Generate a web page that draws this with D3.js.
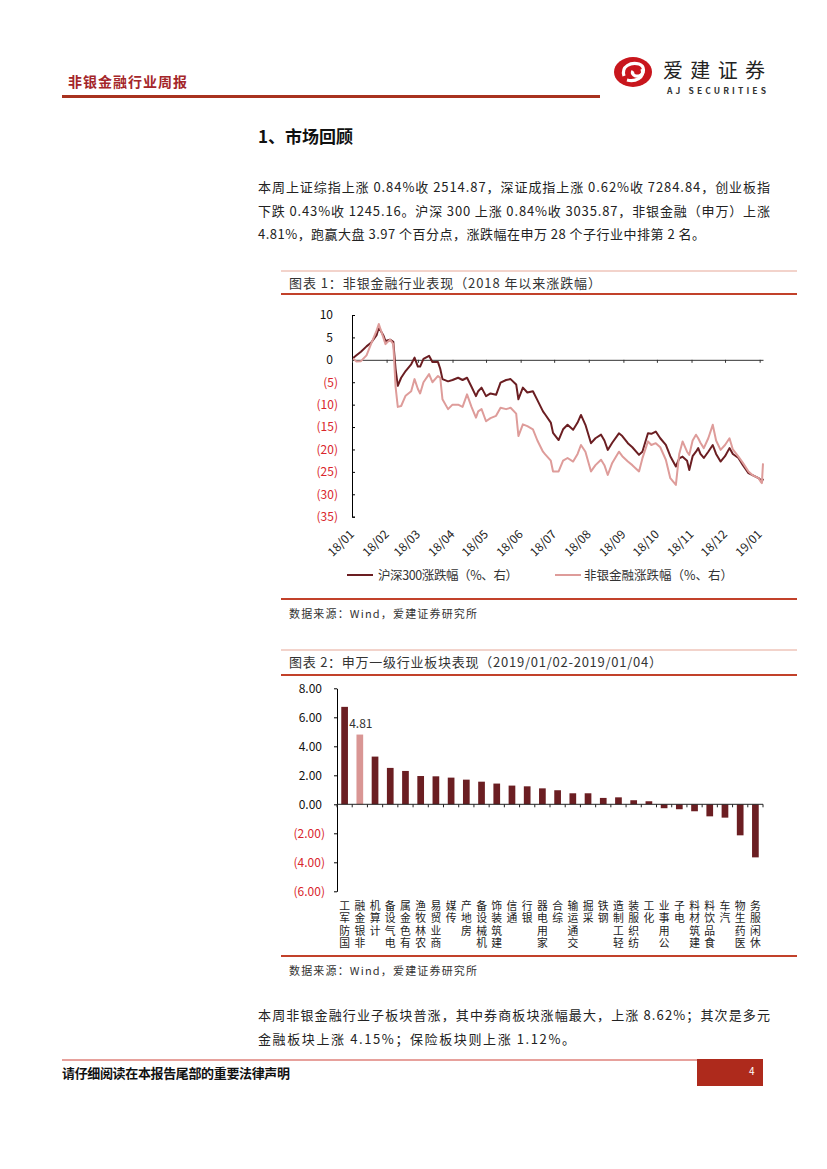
<!DOCTYPE html>
<html><head><meta charset="utf-8">
<script src="https://cdn.jsdelivr.net/npm/d3@7/dist/d3.min.js"></script>
<style>
html,body{margin:0;padding:0;background:#fff;}
svg{display:block;}
text{font-family:"Noto Sans CJK SC","Noto Sans",sans-serif;}
</style></head>
<body>
<svg id="page" width="827" height="1169"></svg>
<script>
// ---------- DATA ----------
const lineDates = ["2018-01-02","2018-01-05","2018-01-09","2018-01-14","2018-01-18","2018-01-23","2018-01-25","2018-01-29","2018-01-31","2018-02-04","2018-02-07","2018-02-09","2018-02-11","2018-02-14","2018-02-18","2018-02-23","2018-02-26","2018-03-01","2018-03-03","2018-03-06","2018-03-11","2018-03-14","2018-03-19","2018-03-21","2018-03-23","2018-03-28","2018-04-01","2018-04-06","2018-04-10","2018-04-14","2018-04-18","2018-04-22","2018-04-24","2018-04-27","2018-05-01","2018-05-05","2018-05-10","2018-05-14","2018-05-19","2018-05-23","2018-05-28","2018-05-30","2018-06-03","2018-06-07","2018-06-12","2018-06-16","2018-06-21","2018-06-23","2018-06-28","2018-06-30","2018-07-05","2018-07-09","2018-07-13","2018-07-18","2018-07-22","2018-07-25","2018-07-29","2018-08-03","2018-08-07","2018-08-12","2018-08-15","2018-08-18","2018-08-22","2018-08-28","2018-08-31","2018-09-05","2018-09-09","2018-09-15","2018-09-18","2018-09-23","2018-09-26","2018-09-30","2018-10-04","2018-10-09","2018-10-13","2018-10-18","2018-10-21","2018-10-24","2018-10-28","2018-10-30","2018-11-02","2018-11-05","2018-11-07","2018-11-09","2018-11-12","2018-11-16","2018-11-20","2018-11-23","2018-11-27","2018-12-01","2018-12-05","2018-12-08","2018-12-13","2018-12-17","2018-12-22","2018-12-26","2018-12-31","2019-01-02","2019-01-03","2019-01-04"];
const hs300 = [0.4,1.0,1.8,3.0,3.8,5.5,7.2,5.5,4.2,4.5,4.0,-2.0,-5.8,-4.0,-2.5,-1.0,0.5,-1.5,-1.5,0.2,0.9,-0.5,-0.5,-2.0,-4.3,-4.8,-4.5,-4.0,-4.5,-4.0,-6.0,-8.1,-7.0,-6.2,-8.1,-7.5,-7.8,-5.1,-4.5,-4.3,-5.5,-8.8,-6.2,-7.3,-7.0,-9.0,-11.5,-12.2,-14.0,-16.3,-17.9,-15.5,-14.5,-15.6,-14.0,-12.3,-14.5,-18.6,-17.5,-16.7,-18.0,-20.1,-18.5,-16.4,-17.0,-18.6,-19.5,-21.2,-20.5,-16.4,-16.5,-16.0,-17.5,-19.0,-21.5,-23.8,-22.0,-21.6,-22.5,-24.6,-21.5,-20.5,-19.7,-21.0,-21.9,-20.5,-19.0,-21.0,-22.7,-21.5,-19.7,-21.0,-21.9,-23.5,-25.3,-25.8,-26.4,-26.8,-27.2,-26.5];
const nonBank = [0.3,-0.4,-0.3,1.0,3.5,6.5,8.0,5.0,3.5,4.5,3.5,-6.0,-10.5,-10.3,-8.0,-7.0,-4.3,-6.5,-7.5,-5.0,-3.2,-5.0,-3.6,-4.0,-8.8,-11.0,-10.0,-10.0,-10.5,-7.7,-10.5,-12.9,-11.5,-11.0,-13.7,-13.0,-12.5,-10.7,-11.0,-10.7,-12.0,-17.0,-14.4,-14.8,-15.5,-18.0,-20.5,-21.1,-22.5,-24.9,-24.9,-22.5,-21.9,-22.7,-21.0,-19.0,-20.5,-24.9,-23.5,-22.3,-23.5,-25.7,-23.0,-20.5,-21.5,-22.7,-23.5,-24.9,-22.0,-18.2,-19.0,-18.6,-19.5,-22.3,-26.4,-27.9,-21.0,-18.2,-20.5,-21.2,-18.0,-16.7,-17.5,-18.5,-19.7,-17.5,-14.5,-18.0,-20.1,-19.0,-17.5,-20.0,-21.6,-23.0,-24.9,-25.8,-26.4,-27.2,-27.5,-23.1];
const lineYTicks = [10,5,0,-5,-10,-15,-20,-25,-30,-35];
const lineSeriesNames = ["沪深300涨跌幅（%、右）","非银金融涨跌幅（%、右）"];

const industries = ["国防军工","非银金融","计算机","电气设备","有色金属","农林牧渔","商业贸易","传媒","房地产","机械设备","建筑装饰","通信","银行","家用电器","综合","交通运输","采掘","钢铁","轻工制造","纺织服装","化工","公用事业","电子","建筑材料","食品饮料","汽车","医药生物","休闲服务"];
const industryChange = [6.72,4.81,3.29,2.51,2.30,1.95,1.93,1.84,1.70,1.56,1.43,1.29,1.24,1.10,0.97,0.76,0.76,0.44,0.48,0.28,0.21,-0.27,-0.34,-0.48,-0.83,-0.92,-2.14,-3.66];
const barYTicks = [8,6,4,2,0,-2,-4,-6];
const highlightIndustry = "非银金融";

// ---------- PAGE ----------
const svg = d3.select("#page");
const DARK = "#6B1E22", PINK = "#DE9C9A", PINKBAR = "#D99694", RED = "#D9262C", RULE = "#C2412A";

// header
svg.append("text").attr("x",68).attr("y",87).attr("font-size",14).attr("font-weight","bold")
  .attr("fill","#A4262A").attr("textLength",119).text("非银金融行业周报");
svg.append("rect").attr("x",62).attr("y",95).attr("width",538).attr("height",3).attr("fill","#A8321F");
// logo
const lg = svg.append("g").attr("transform","translate(633,72)");
lg.append("ellipse").attr("rx",19).attr("ry",15).attr("fill","#C8161D");
lg.append("path").attr("d","M-9,4 C-12,-6 -2,-10 6,-8 C12,-6 12,2 6,4 C2,5 -2,2 0,-1")
  .attr("fill","none").attr("stroke","#fff").attr("stroke-width",3.2);
lg.append("path").attr("d","M9,-3 C12,6 2,10 -6,8")
  .attr("fill","none").attr("stroke","#fff").attr("stroke-width",3.2);
svg.append("text").attr("x",663).attr("y",78).attr("font-size",20).attr("fill","#222")
  .attr("textLength",102).attr("lengthAdjust","spacing").text("爱建证券");
svg.append("text").attr("x",667).attr("y",94).attr("font-size",8.5).attr("font-weight","bold").attr("fill","#333")
  .attr("font-family","Arial, 'Liberation Sans', sans-serif").attr("textLength",99).text("AJ SECURITIES");

// section title
svg.append("text").attr("x",258).attr("y",143).attr("font-size",17).attr("font-weight","bold").attr("fill","#111").text("1、市场回顾");

function para(lines, x, y0, lh){
  lines.forEach((l,i)=>{
    const t = svg.append("text").attr("x",x).attr("y",y0+i*lh).attr("font-size",13).attr("fill","#222").text(l[0]);
    if(l[1]) t.attr("textLength",l[1]).attr("lengthAdjust","spacing");
  });
}
para([["本周上证综指上涨 0.84%收 2514.87，深证成指上涨 0.62%收 7284.84，创业板指",512],
      ["下跌 0.43%收 1245.16。沪深 300 上涨 0.84%收 3035.87，非银金融（申万）上涨",512],
      ["4.81%，跑赢大盘 3.97 个百分点，涨跌幅在申万 28 个子行业中排第 2 名。",447]],258,192,23.5);

// chart frames
function frame(yTop, yThick, title, titleLen, yBottom){
  svg.append("line").attr("x1",281).attr("x2",797).attr("y1",yTop).attr("y2",yTop).attr("stroke","#E6A797").attr("stroke-width",1);
  svg.append("text").attr("x",289).attr("y",yTop+17).attr("font-size",13).attr("fill","#333")
    .attr("textLength",titleLen).attr("lengthAdjust","spacing").text(title);
  svg.append("line").attr("x1",281).attr("x2",797).attr("y1",yThick).attr("y2",yThick).attr("stroke",RULE).attr("stroke-width",2);
  svg.append("line").attr("x1",281).attr("x2",797).attr("y1",yBottom).attr("y2",yBottom).attr("stroke",RULE).attr("stroke-width",2);
  svg.append("text").attr("x",289).attr("y",yBottom+19).attr("font-size",11).attr("fill","#333")
    .attr("textLength",188).attr("lengthAdjust","spacing").text("数据来源：Wind，爱建证券研究所");
}
frame(271,294,"图表 1：非银金融行业表现（2018 年以来涨跌幅）",312,599);
frame(650,675,"图表 2：申万一级行业板块表现（2019/01/02-2019/01/04）",373,956);

// ---------- CHART 1 ----------
const parse = d3.timeParse("%Y-%m-%d");
const dates = lineDates.map(parse);
const x1 = d3.scaleTime().domain([new Date(2018,0,1), new Date(2019,0,4)]).range([352,763]);
const y1 = d3.scaleLinear().domain([-35,10]).range([516.7,315]);
const c1 = svg.append("g");
const monthTicks = d3.timeMonth.range(new Date(2018,0,1), new Date(2019,0,2));

const ya = c1.append("g").attr("transform","translate(352,0)")
  .call(d3.axisLeft(y1).tickValues(lineYTicks).tickSizeInner(-3).tickSizeOuter(-3)
    .tickFormat(v => v<0 ? `(${Math.abs(v)})` : `${v}`));
ya.select(".domain").attr("stroke","#000");
ya.selectAll(".tick line").attr("stroke","#000");
ya.selectAll(".tick text").attr("font-family","Arial,'Liberation Sans',sans-serif").attr("font-size",12)
  .attr("x", d => d<0 ? -14 : -19).attr("fill", d => d<0 ? RED : "#111");

const xa = c1.append("g").attr("transform",`translate(0,${y1(0)})`)
  .call(d3.axisBottom(x1).tickValues(monthTicks).tickSizeInner(3).tickSizeOuter(0).tickFormat(""));
xa.select(".domain").attr("stroke","#333");
xa.selectAll(".tick line").attr("stroke","#333");

const fmtM = d3.timeFormat("%y/%m");
c1.append("g").selectAll("text").data(monthTicks).join("text")
  .attr("transform", d => `translate(${x1(d)+3},${535}) rotate(-45)`)
  .attr("text-anchor","end").attr("font-family","Arial,'Liberation Sans',sans-serif").attr("font-size",12).attr("fill","#222")
  .text(fmtM);

const lineGen = vals => d3.line().x((d,i)=>x1(dates[i])).y(d=>y1(d))(vals);
c1.append("path").attr("d",lineGen(hs300)).attr("fill","none").attr("stroke",DARK).attr("stroke-width",2).attr("stroke-linejoin","round");
c1.append("path").attr("d",lineGen(nonBank)).attr("fill","none").attr("stroke",PINK).attr("stroke-width",2).attr("stroke-linejoin","round");

// legend
const leg = [[347,378,DARK,140],[555,584,PINK,149]];
leg.forEach((l,i)=>{
  c1.append("line").attr("x1",l[0]).attr("x2",l[0]+26).attr("y1",575).attr("y2",575).attr("stroke",l[2]).attr("stroke-width",2);
  c1.append("text").attr("x",l[1]).attr("y",580).attr("font-size",12.5).attr("fill","#333")
    .attr("textLength",l[3]).attr("lengthAdjust","spacing").text(lineSeriesNames[i]);
});

// ---------- CHART 2 ----------
const c2 = svg.append("g");
const xb = d3.scaleBand().domain(industries).range([337,763]).paddingInner(0.56).paddingOuter(0.28);
const yb = d3.scaleLinear().domain([-6,8]).range([891.3,688.3]);

const yba = c2.append("g").attr("transform","translate(337,0)")
  .call(d3.axisLeft(yb).tickValues(barYTicks).tickSizeInner(3).tickSizeOuter(0)
    .tickFormat(v => v<0 ? `(${Math.abs(v).toFixed(2)})` : v.toFixed(2)));
yba.select(".domain").attr("stroke","#000");
yba.selectAll(".tick line").attr("stroke","#000");
yba.selectAll(".tick text").attr("font-family","'Liberation Mono',monospace").attr("font-size",12)
  .attr("x", d => d<0 ? -12 : -15).attr("fill", d => d<0 ? RED : "#111");

c2.append("g").selectAll("rect").data(industries).join("rect")
  .attr("x", d => xb(d)).attr("width", xb.bandwidth())
  .attr("y", (d,i) => yb(Math.max(0,industryChange[i])))
  .attr("height", (d,i) => Math.abs(yb(industryChange[i]) - yb(0)))
  .attr("fill", d => d===highlightIndustry ? PINKBAR : DARK);

// zero axis with boundary ticks
const step = xb.step(), gap = step - xb.bandwidth();
const bounds = industries.map(d => xb(d) - gap/2).concat([xb(industries[industries.length-1]) + xb.bandwidth() + gap/2]);
c2.append("line").attr("x1",337).attr("x2",763).attr("y1",yb(0)).attr("y2",yb(0)).attr("stroke","#222");
c2.append("g").selectAll("line").data(bounds).join("line")
  .attr("x1",d=>d).attr("x2",d=>d).attr("y1",yb(0)).attr("y2",yb(0)+3).attr("stroke","#222");

// value label
const hi = industries.indexOf(highlightIndustry);
c2.append("text").attr("x", xb(highlightIndustry)+xb.bandwidth()/2+1).attr("y", yb(industryChange[hi])-7)
  .attr("text-anchor","middle").attr("font-family","'Open Sans',Arial,sans-serif").attr("font-size",12).attr("fill","#333")
  .text(industryChange[hi].toFixed(2));

// stacked category labels (upright glyphs, read bottom-to-top, top-aligned under the axis)
industries.forEach(name=>{
  const chars = Array.from(name), n = chars.length;
  const cx = xb(name)+xb.bandwidth()/2;
  chars.forEach((ch,i)=>{
    c2.append("text").attr("x",cx).attr("y",910+(n-1-i)*12.4).attr("text-anchor","middle")
      .attr("font-family","'Liberation Sans','Noto Sans CJK SC',sans-serif")
      .attr("font-size",10.8).attr("fill","#222").text(ch);
  });
});

// bottom paragraph
para([["本周非银金融行业子板块普涨，其中券商板块涨幅最大，上涨 8.62%；其次是多元",512],
      ["金融板块上涨 4.15%；保险板块则上涨 1.12%。",317]],258,1020,23.5);

// footer
svg.append("line").attr("x1",62).attr("x2",697).attr("y1",1060).attr("y2",1060).attr("stroke","#D0453A").attr("stroke-width",1.2);
svg.append("rect").attr("x",697).attr("y",1059).attr("width",66).attr("height",27).attr("fill","#AE2A1C");
svg.append("text").attr("x",749).attr("y",1075).attr("font-size",10).attr("fill","#fff").attr("font-family","Arial,sans-serif").text("4");
svg.append("text").attr("x",62).attr("y",1078).attr("font-size",13).attr("font-weight","bold").attr("fill","#111")
  .attr("textLength",228).text("请仔细阅读在本报告尾部的重要法律声明");
</script>
</body></html>
